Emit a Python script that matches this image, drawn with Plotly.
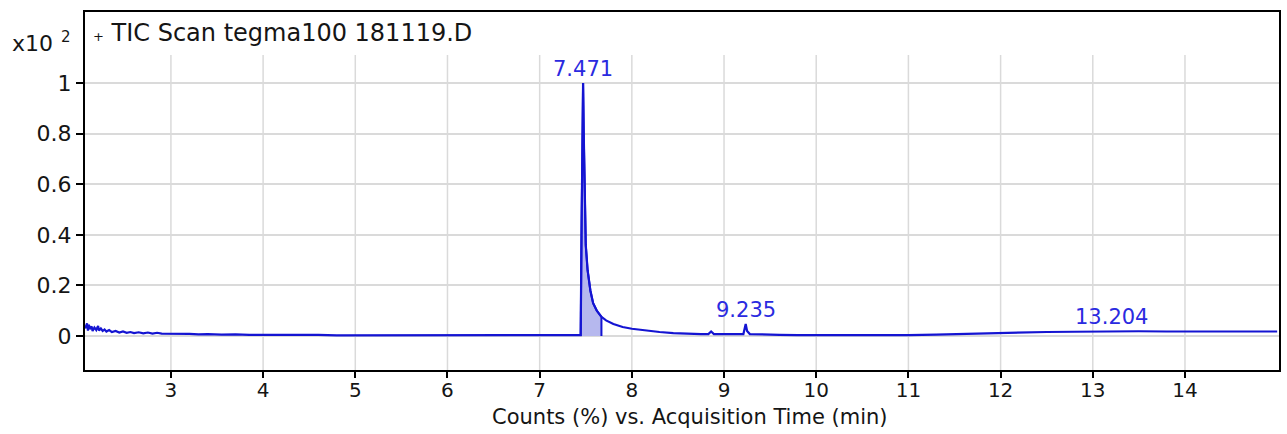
import plotly.graph_objects as go

# Total ion chromatogram (counts in units of x10^2 %)
rt_min = [
    2.07, 2.09, 2.10, 2.11, 2.12, 2.14, 2.15, 2.17, 2.19, 2.21, 2.22, 2.24,
    2.26, 2.28, 2.30, 2.33, 2.36, 2.40, 2.44, 2.48, 2.52, 2.56, 2.60, 2.65,
    2.70, 2.75, 2.80, 2.85, 2.90, 3.00, 3.10, 3.20, 3.30, 3.40, 3.55, 3.70,
    3.85, 4.00, 4.20, 4.40, 4.60, 4.80, 5.00, 5.30, 5.60, 6.00, 6.40, 6.80,
    7.20, 7.40, 7.445, 7.455, 7.465, 7.471, 7.478, 7.488, 7.50, 7.52, 7.55,
    7.58, 7.62, 7.67, 7.72, 7.80, 7.90, 8.00, 8.15, 8.30, 8.45, 8.60, 8.75,
    8.83, 8.86, 8.89, 9.00, 9.15, 9.21, 9.235, 9.25, 9.28, 9.40, 9.60, 9.80,
    10.0, 10.3, 10.6, 11.0, 11.3, 11.6, 11.9, 12.2, 12.5, 12.8, 13.0, 13.204,
    13.5, 13.8, 14.1, 14.4, 14.7, 15.0,
]
counts = [
    0.030, 0.050, 0.022, 0.045, 0.028, 0.038, 0.020, 0.034, 0.024, 0.040, 0.022, 0.030,
    0.020, 0.026, 0.018, 0.024, 0.016, 0.020, 0.014, 0.018, 0.013, 0.016, 0.012, 0.015,
    0.011, 0.014, 0.010, 0.013, 0.010, 0.010, 0.008, 0.009, 0.007, 0.008, 0.006, 0.007,
    0.005, 0.005, 0.006, 0.004, 0.005, 0.003, 0.003, 0.002, 0.003, 0.002, 0.002, 0.002,
    0.003, 0.003, 0.004, 0.45, 0.93, 1.00, 0.80, 0.50, 0.36, 0.26, 0.18,
    0.13, 0.10, 0.076, 0.062, 0.048, 0.036, 0.029, 0.022, 0.016, 0.012, 0.009, 0.008,
    0.008, 0.018, 0.008, 0.007, 0.006, 0.008, 0.048, 0.020, 0.008, 0.006, 0.005, 0.004,
    0.004, 0.003, 0.003, 0.004, 0.006, 0.009, 0.012, 0.014, 0.016, 0.017, 0.018, 0.019,
    0.019, 0.018, 0.018, 0.018, 0.018, 0.018,
]

# Labelled peaks (retention times, min)
peak_labels = ["7.471", "9.235", "13.204"]

# Integrated region of the main peak
integ_start, integ_end = 7.445, 7.67

x_ticks = [3, 4, 5, 6, 7, 8, 9, 10, 11, 12, 13, 14]
y_ticks = [0, 0.2, 0.4, 0.6, 0.8, 1]
x_range = [2.068, 15.02]
y_range = [-0.134, 1.28]
grid_top = 1.11

LINE = "#1414d2"
FILL = "#b6b8ee"
TEXT = "#151515"
FONT = "DejaVu Sans"

fig = go.Figure()

# shaded integration area
ix = [t for t in rt_min if integ_start <= t <= integ_end]
iy = [c for t, c in zip(rt_min, counts) if integ_start <= t <= integ_end]
fig.add_trace(go.Scatter(
    x=[integ_start] + ix + [integ_end],
    y=[0] + iy + [0],
    mode="lines", fill="toself", fillcolor=FILL,
    line=dict(color=LINE, width=2), hoverinfo="skip", showlegend=False,
))

fig.add_trace(go.Scatter(
    x=rt_min, y=counts, mode="lines",
    line=dict(color=LINE, width=2.2), showlegend=False,
))

# vertical grid lines stop below the title row
for xt in x_ticks:
    fig.add_shape(type="line", x0=xt, x1=xt, y0=y_range[0], y1=grid_top,
                  xref="x", yref="y", line=dict(color="#dadada", width=1.5),
                  layer="below")

for lab in peak_labels:
    t = float(lab)
    c = counts[rt_min.index(t)]
    fig.add_annotation(x=t, y=c, text=lab, showarrow=False, xanchor="center",
                       yanchor="bottom", yshift=0,
                       font=dict(family=FONT, size=21, color="#2a2ae0"))

fig.add_annotation(xref="paper", yref="paper", x=0.005, y=0.94,
                   text='<span style="font-size:13px">+</span> TIC Scan tegma100 181119.D',
                   showarrow=False, xanchor="left", yanchor="middle",
                   font=dict(family=FONT, size=24, color=TEXT))
fig.add_annotation(xref="paper", yref="paper", x=-0.0627, y=0.913,
                   text="x10", showarrow=False, xanchor="left", yanchor="middle",
                   font=dict(family=FONT, size=22, color=TEXT))
fig.add_annotation(xref="paper", yref="paper", x=-0.0215, y=0.93,
                   text="2", showarrow=False, xanchor="left", yanchor="middle",
                   font=dict(family=FONT, size=15, color=TEXT))

# x-axis title
fig.add_annotation(xref="paper", yref="paper", x=0.506, y=-0.13,
                   text="Counts (%) vs. Acquisition Time (min)",
                   showarrow=False, xanchor="center", yanchor="middle",
                   font=dict(family=FONT, size=21, color=TEXT))

fig.update_layout(
    width=1287, height=434,
    margin=dict(l=85, r=6, t=12, b=64),
    paper_bgcolor="white", plot_bgcolor="white",
    font=dict(family=FONT, size=22, color=TEXT),
    xaxis=dict(
        range=x_range, tickvals=x_ticks, ticktext=[str(v) for v in x_ticks],
        showgrid=False, zeroline=False,
        showline=True, linecolor="black", linewidth=2, mirror=True,
        ticks="outside", ticklen=6, tickwidth=2, tickcolor="black",
        ticklabelstandoff=-5,
        tickfont=dict(family=FONT, size=20, color=TEXT),
    ),
    yaxis=dict(
        range=y_range, tickvals=y_ticks, ticktext=["0", "0.2", "0.4", "0.6", "0.8", "1"],
        showgrid=True, gridcolor="#dadada", gridwidth=1.5, zeroline=False,
        showline=True, linecolor="black", linewidth=2, mirror=True,
        ticks="outside", ticklen=7, tickwidth=2, tickcolor="black",
        tickfont=dict(family=FONT, size=22, color=TEXT),
    ),
)

fig.write_html("out.html")
